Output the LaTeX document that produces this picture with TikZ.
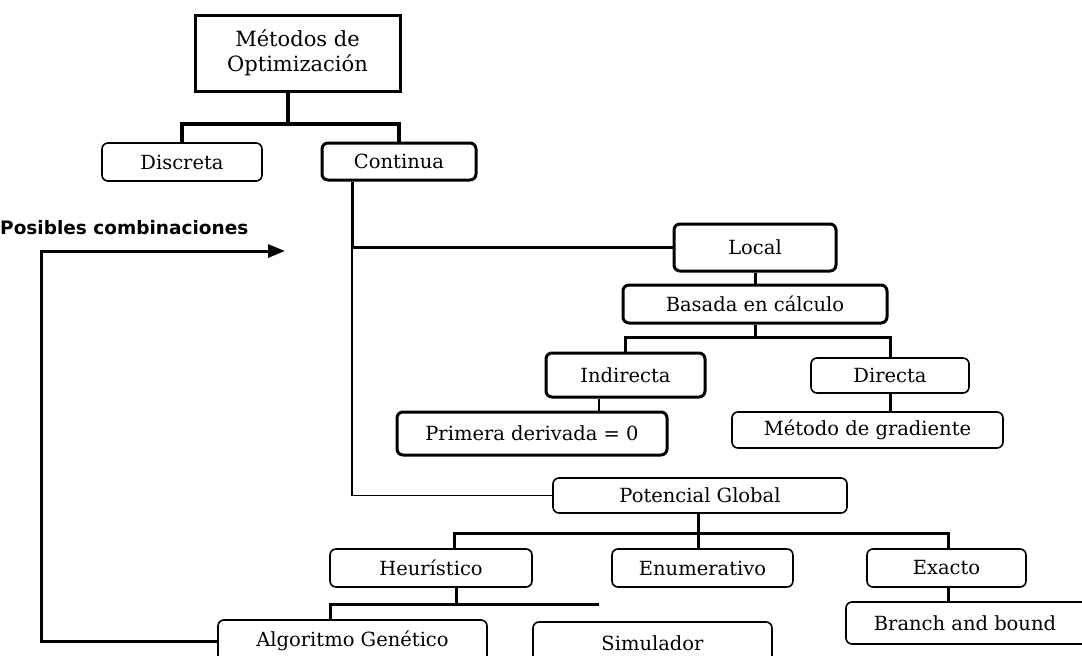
\documentclass[tikz,border=0pt]{standalone}
\usepackage{fontspec}
\setmainfont{DejaVu Serif}
\newfontfamily\labfont{DejaVu Sans}
\usetikzlibrary{arrows.meta}
\begin{document}
\begin{tikzpicture}[x=1pt,y=-1pt,
  box/.style={draw, rounded corners=6pt, line width=1.6pt, inner sep=0pt, align=center, font=\fontsize{19.5}{23}\selectfont},
  thickbox/.style={box, line width=3pt},
  conn/.style={line width=3pt},
  heavyconn/.style={line width=4.5pt},
  thinconn/.style={line width=1.8pt},
]
\useasboundingbox (0,0) rectangle (1082,656);
\clip (0,0) rectangle (1082,656);

% nodes
\node[draw, line width=3pt, inner sep=0pt, minimum width=205pt, minimum height=76pt, align=center,
      font=\fontsize{21}{25}\selectfont] (top) at (297.5,53) {Métodos de\\Optimización};
\node[box, minimum width=160pt, minimum height=38pt] (disc) at (182,162) {Discreta};
\node[thickbox, minimum width=154pt, minimum height=37pt] (cont) at (399,161.5) {Continua};
\node[thickbox, minimum width=162pt, minimum height=47pt] (local) at (755,247.5) {Local};
\node[thickbox, minimum width=264pt, minimum height=38pt] (basada) at (755,304) {Basada en cálculo};
\node[thickbox, minimum width=159pt, minimum height=44pt] (indir) at (625.5,375) {Indirecta};
\node[box, minimum width=158pt, minimum height=35pt] (direc) at (890,375.5) {Directa};
\node[thickbox, minimum width=270pt, minimum height=43pt] (prim) at (532,433.5) {Primera derivada = 0};
\node[box, minimum width=271pt, minimum height=36pt] (grad) at (867.5,430) {Método de gradiente};
\node[box, minimum width=294pt, minimum height=35pt] (pot) at (700,495.5) {Potencial Global};
\node[box, minimum width=202pt, minimum height=38pt] (heur) at (431,568) {Heurístico};
\node[box, minimum width=181pt, minimum height=38pt] (enum) at (702.5,568) {Enumerativo};
\node[box, minimum width=159pt, minimum height=38pt] (exact) at (946.5,568) {Exacto};
\node[box, minimum width=244pt, minimum height=42pt] (branch) at (968,623) {\hspace*{-6pt}Branch and bound};
\node[box, minimum width=269pt, minimum height=42pt] (alg) at (352.5,641) {Algoritmo Genético};
\node[box, minimum width=239pt, minimum height=42pt] (sim) at (652.5,643) {Simulador};

\node[anchor=west, inner sep=0pt, font=\labfont\bfseries\fontsize{18.5}{22}\selectfont] (posib) at (0,228) {Posibles combinaciones};

% coordinates
\coordinate (b1) at (288,124);
\coordinate (c1) at (352,247.5);
\coordinate (bb) at (755,337);
\coordinate (p1) at (599,0);
\coordinate (g1) at (698,533);
\coordinate (hx) at (454,533);
\coordinate (ex) at (948,533);
\coordinate (h1) at (456,604);
\coordinate (hl) at (330,604);
\coordinate (hr) at (599,604);
\coordinate (lc) at (41,251);
\coordinate (arr) at (285,251);

% connectors
\draw[heavyconn] (top.south -| b1) -- (b1);
\draw[heavyconn] (disc.north) -- (disc.north |- b1) -- (cont.north |- b1) -- (cont.north);
\draw[conn] (cont.south -| c1) -- (c1) -- (local.west);
\draw[thinconn] (c1) |- (pot.west);
\draw[conn] (local.south) -- (basada.north);
\draw[conn] (basada.south) -- (bb);
\draw[conn] (indir.north) -- (indir.north |- bb) -- (direc.north |- bb) -- (direc.north);
\draw[thinconn] (indir.south -| p1) -- (prim.north -| p1);
\draw[conn] (direc.south) -- (direc.south |- grad.north);
\draw[conn] (pot.south -| g1) -- (g1);
\draw[conn] (heur.north -| hx) -- (hx) -- (ex) -- (exact.north -| ex);
\draw[conn] (g1) -- (enum.north -| g1);
\draw[conn] (exact.south -| ex) -- (branch.north -| ex);
\draw[conn] (heur.south -| h1) -- (h1);
\draw[conn] (alg.north -| hl) -- (hl) -- (hr);
\draw[conn, -{Triangle[length=17pt,width=13pt]}] (alg.west) -| (lc) -- (arr);
\end{tikzpicture}
\end{document}
